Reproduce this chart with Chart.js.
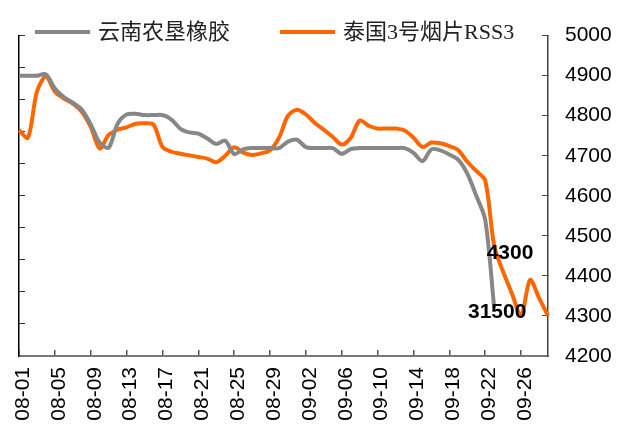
<!DOCTYPE html>
<html>
<head>
<meta charset="utf-8">
<script src="https://cdn.jsdelivr.net/npm/chart.js@4.4.1/dist/chart.umd.min.js"></script>
<style>
  html, body { margin: 0; padding: 0; background: #fff; }
  #wrap { width: 630px; height: 424px; position: relative; }
</style>
</head>
<body>
<div id="wrap"><canvas id="c"></canvas></div>
<script>
// calendar days on the date axis
const days = [
  '08-01','08-02','08-03','08-04','08-05','08-06','08-07','08-08','08-09','08-10',
  '08-11','08-12','08-13','08-14','08-15','08-16','08-17','08-18','08-19','08-20',
  '08-21','08-22','08-23','08-24','08-25','08-26','08-27','08-28','08-29','08-30',
  '08-31','09-01','09-02','09-03','09-04','09-05','09-06','09-07','09-08','09-09',
  '09-10','09-11','09-12','09-13','09-14','09-15','09-16','09-17','09-18','09-19',
  '09-20','09-21','09-22','09-23','09-24','09-25','09-26','09-27','09-28','09-29'
];

// 云南农垦橡胶 (left, hidden axis)
const yunnan = [
  38750, 38750, 38750, 38790, 38350, 38080, 37910, 37690, 37230, 36660,
  36500, 37250, 37540, 37560, 37520, 37520, 37520, 37380, 37090, 36980,
  36940, 36790, 36620, 36720, 36300, 36450, 36490, 36490, 36490, 36490,
  36690, 36750, 36520, 36490, 36490, 36490, 36310, 36460, 36490, 36490,
  36490, 36490, 36490, 36490, 36340, 36080, 36450, 36420, 36290, 36120,
  35690, 35000, 34250, 31500, null, null, null, null, null, null
];

// 泰国3号烟片RSS3 (right axis)
const rss3 = [
  4764, 4745, 4860, 4898, 4860, 4843, 4830, 4810, 4772, 4718,
  4752, 4765, 4771, 4780, 4781, 4778, 4722, 4710, 4705, 4701,
  4697, 4693, 4684, 4700, 4721, 4708, 4702, 4706, 4714, 4745,
  4800, 4815, 4803, 4782, 4765, 4747, 4728, 4745, 4788, 4775,
  4768, 4768, 4768, 4763, 4745, 4722, 4733, 4731, 4724, 4714,
  4685, 4662, 4638, 4475, 4410, 4355, 4300, 4390, 4345, 4300
];

const rightTicks = { min: 4200, max: 5000, step: 100 };
const leftTicks = { min: 30000, max: 40000, step: 1000 };

const gray = '#878787';
const orange = '#ff6600';

// legend drawn inside the plot, like the original
const insideLegend = {
  id: 'insideLegend',
  afterDraw(chart) {
    const ctx = chart.ctx;
    const xs = [35, 280];
    const y = 32;
    ctx.save();
    ctx.font = '22px "Liberation Serif", "Noto Sans CJK SC", serif';
    ctx.textBaseline = 'middle';
    ctx.fillStyle = '#222';
    chart.data.datasets.forEach((ds, i) => {
      ctx.strokeStyle = ds.borderColor;
      ctx.lineWidth = 4;
      ctx.beginPath();
      ctx.moveTo(xs[i], y);
      ctx.lineTo(xs[i] + 55, y);
      ctx.stroke();
      ctx.fillText(ds.label, xs[i] + 63, y + 1);
    });
    ctx.restore();
  }
};

// last value labels
const lastLabels = {
  id: 'lastLabels',
  afterDatasetsDraw(chart) {
    const ctx = chart.ctx;
    const offs = [[3, 4], [-38, -63]];
    ctx.save();
    ctx.font = 'bold 21px "Liberation Sans", Arial, sans-serif';
    ctx.textAlign = 'center';
    ctx.textBaseline = 'middle';
    ctx.fillStyle = '#000';
    chart.data.datasets.forEach((ds, i) => {
      const meta = chart.getDatasetMeta(i);
      let k = ds.data.length - 1;
      while (k > 0 && ds.data[k] == null) k--;
      const pt = meta.data[k];
      ctx.fillText(String(ds.data[k]), pt.x + offs[i][0], pt.y + offs[i][1]);
    });
    ctx.restore();
  }
};

Chart.defaults.font.family = '"Liberation Sans", Arial, sans-serif';
Chart.defaults.color = '#000';

new Chart(document.getElementById('c').getContext('2d'), {
  type: 'line',
  data: {
    labels: days,
    datasets: [
      {
        label: '云南农垦橡胶',
        data: yunnan,
        yAxisID: 'yL',
        borderColor: gray,
        backgroundColor: gray,
        borderWidth: 4,
        pointRadius: 0,
        tension: 0.3,
        spanGaps: false,
      },
      {
        label: '泰国3号烟片RSS3',
        data: rss3,
        yAxisID: 'yR',
        borderColor: orange,
        backgroundColor: orange,
        borderWidth: 4,
        pointRadius: 0,
        tension: 0.3,
      }
    ]
  },
  options: {
    responsive: true,
    maintainAspectRatio: false,
    animation: false,
    layout: { padding: { top: 20, left: 0, right: 0, bottom: 0 } },
    plugins: { legend: { display: false }, tooltip: { enabled: false } },
    scales: {
      x: {
        offset: false,
        afterFit: s => { s.height = 68; },
        border: { color: '#777', width: 2 },
        grid: { drawOnChartArea: false, tickLength: -6, color: '#555', lineWidth: 1.5 },
        ticks: {
          autoSkip: false,
          maxRotation: 90,
          minRotation: 90,
          padding: 17,
          labelOffset: 4,
          font: { size: 21 },
          callback: function (v, i) { return i % 4 === 0 ? days[i] : undefined; }
        }
      },
      yL: {
        position: 'left',
        min: leftTicks.min,
        max: leftTicks.max,
        afterFit: s => { s.width = 19; },
        border: { color: '#000', width: 1.5 },
        grid: { drawOnChartArea: false, tickLength: -6, color: '#333' },
        ticks: { stepSize: leftTicks.step, display: false }
      },
      yR: {
        position: 'right',
        min: rightTicks.min,
        max: rightTicks.max,
        afterFit: s => { s.width = 82; },
        border: { color: '#444', width: 1.5 },
        grid: { drawOnChartArea: false, tickLength: -6, color: '#444' },
        ticks: {
          stepSize: rightTicks.step,
          padding: 23,
          font: { size: 21 },
          callback: v => String(v)
        }
      }
    }
  },
  plugins: [insideLegend, lastLabels]
});
</script>
</body>
</html>
